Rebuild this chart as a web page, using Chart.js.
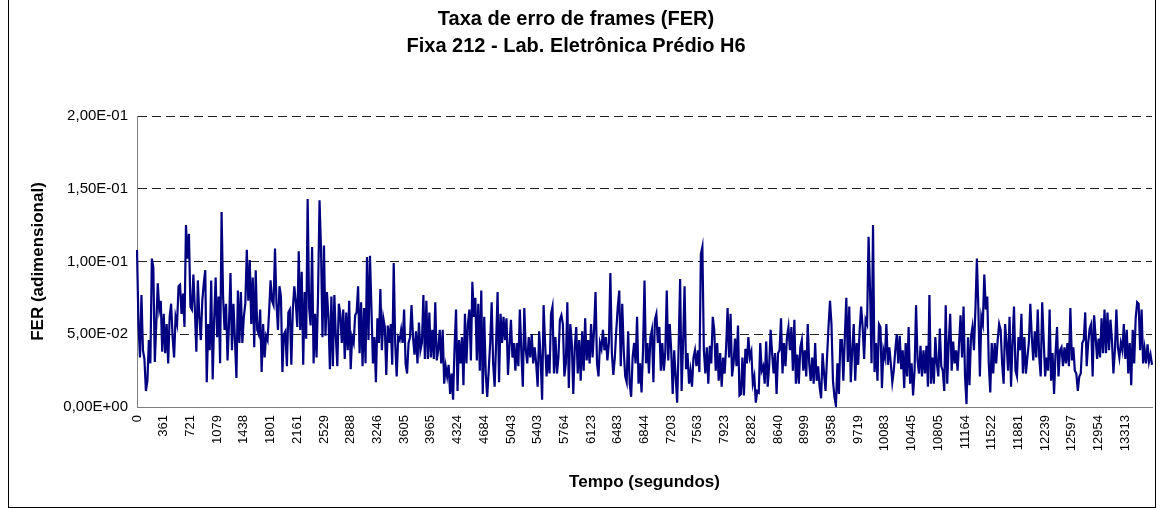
<!DOCTYPE html>
<html>
<head>
<meta charset="utf-8">
<script src="https://cdn.jsdelivr.net/npm/chart.js@4.4.0/dist/chart.umd.min.js"></script>
<style>
  body { margin: 0; background: #fff; }
  #caixa { position: relative; width: 1162px; height: 508px; }
  #moldura { position: absolute; left: 8px; top: -1px; width: 1146px; height: 507px; border: 1px solid #000; pointer-events: none; }
</style>
</head>
<body>
<div id="caixa">
  <canvas id="grafico_fer"></canvas>
  <div id="moldura"></div>
</div>
<script>
// rotulos do eixo X (um a cada 18 amostras)
var rotulos_tempo = ['0', '361', '721', '1079', '1438', '1801', '2161', '2529', '2888', '3246',
  '3605', '3965', '4324', '4684', '5043', '5403', '5764', '6123', '6483', '6844',
  '7203', '7563', '7923', '8282', '8640', '8999', '9358', '9719', '10083', '10445',
  '10805', '11164', '11522', '11881', '12239', '12597', '12954', '13313'];
var passo_rotulo = 18;

// FER, por trechos
var fer_1 = [0.108, 0.057, 0.034, 0.077, 0.039, 0.033, 0.011, 0.018, 0.046, 0.030,
  0.102, 0.096, 0.031, 0.057, 0.085, 0.067, 0.073, 0.038, 0.064, 0.037,
  0.057, 0.030, 0.062, 0.071, 0.048, 0.034, 0.062, 0.057, 0.083, 0.084,
  0.064, 0.078, 0.055, 0.125, 0.102, 0.119, 0.069, 0.067, 0.091, 0.067,
  0.038, 0.087, 0.062, 0.046, 0.073, 0.085, 0.094, 0.017, 0.057, 0.039,
  0.087, 0.019, 0.060, 0.089, 0.048, 0.076, 0.030, 0.134, 0.076, 0.053,
  0.071, 0.032, 0.057, 0.092, 0.039, 0.071, 0.046];
var fer_2 = [0.020, 0.080, 0.044, 0.079, 0.044, 0.062, 0.071, 0.108, 0.073, 0.101,
  0.057, 0.089, 0.041, 0.094, 0.053, 0.050, 0.067, 0.024, 0.057, 0.034,
  0.049, 0.046, 0.065, 0.087, 0.073, 0.070, 0.109, 0.071, 0.053, 0.083,
  0.076, 0.024, 0.050, 0.052, 0.028, 0.065, 0.067, 0.029, 0.067, 0.083,
  0.072, 0.055, 0.107, 0.053, 0.093, 0.029, 0.079, 0.047, 0.143, 0.068,
  0.056, 0.110, 0.030, 0.064, 0.034, 0.077, 0.142, 0.109, 0.048, 0.111,
  0.049, 0.079, 0.062, 0.026, 0.076, 0.028, 0.077, 0.048];
var fer_3 = [0.028, 0.071, 0.064, 0.044, 0.067, 0.033, 0.065, 0.039, 0.073, 0.026,
  0.048, 0.044, 0.063, 0.065, 0.083, 0.037, 0.072, 0.028, 0.068, 0.030,
  0.103, 0.046, 0.104, 0.067, 0.030, 0.048, 0.017, 0.061, 0.044, 0.081,
  0.039, 0.061, 0.055, 0.022, 0.056, 0.044, 0.057, 0.029, 0.099, 0.044,
  0.021, 0.048, 0.046, 0.053, 0.044, 0.067, 0.030, 0.023, 0.044, 0.048,
  0.070, 0.048, 0.036, 0.052, 0.030, 0.058, 0.039, 0.044, 0.077, 0.033,
  0.073, 0.033, 0.065, 0.034, 0.053, 0.033, 0.072, 0.032];
var fer_4 = [0.039, 0.053, 0.030, 0.053, 0.016, 0.028, 0.021, 0.029, 0.009, 0.023,
  0.005, 0.041, 0.067, 0.011, 0.046, 0.030, 0.048, 0.015, 0.064, 0.030,
  0.057, 0.067, 0.032, 0.086, 0.062, 0.075, 0.032, 0.071, 0.025, 0.080,
  0.009, 0.062, 0.023, 0.007, 0.025, 0.044, 0.072, 0.030, 0.014, 0.044,
  0.079, 0.017, 0.064, 0.044, 0.062, 0.046, 0.061, 0.022, 0.042, 0.060,
  0.034, 0.044, 0.025, 0.044, 0.028, 0.067, 0.038, 0.014, 0.068, 0.039,
  0.030, 0.048, 0.034, 0.050, 0.030, 0.041, 0.030, 0.014];
var fer_5 = [0.052, 0.034, 0.005, 0.070, 0.044, 0.021, 0.036, 0.023, 0.064, 0.069,
  0.023, 0.048, 0.023, 0.034, 0.060, 0.063, 0.057, 0.021, 0.030, 0.072,
  0.013, 0.057, 0.044, 0.009, 0.041, 0.055, 0.023, 0.046, 0.018, 0.052,
  0.025, 0.061, 0.032, 0.046, 0.030, 0.057, 0.034, 0.053, 0.079, 0.030,
  0.021, 0.044, 0.040, 0.053, 0.039, 0.048, 0.032, 0.044, 0.092, 0.037,
  0.022, 0.034, 0.053, 0.069, 0.080, 0.028, 0.071, 0.039, 0.021, 0.017,
  0.052, 0.016, 0.007, 0.034, 0.044, 0.030, 0.062, 0.016];
var fer_6 = [0.030, 0.010, 0.039, 0.087, 0.030, 0.044, 0.023, 0.048, 0.053, 0.017,
  0.060, 0.064, 0.044, 0.055, 0.025, 0.044, 0.025, 0.037, 0.080, 0.032,
  0.057, 0.039, 0.009, 0.039, 0.021, 0.003, 0.041, 0.088, 0.011, 0.044,
  0.083, 0.026, 0.037, 0.016, 0.025, 0.014, 0.034, 0.039, 0.028, 0.039,
  0.024, 0.105, 0.110, 0.039, 0.023, 0.041, 0.016, 0.042, 0.030, 0.062,
  0.053, 0.025, 0.044, 0.018, 0.037, 0.014, 0.034, 0.023, 0.041, 0.068,
  0.034, 0.064, 0.021, 0.030, 0.047, 0.028, 0.056, 0.008];
var fer_7 = [0.009, 0.034, 0.008, 0.040, 0.030, 0.048, 0.034, 0.038, 0.016, 0.021,
  0.003, 0.011, 0.010, 0.044, 0.025, 0.028, 0.016, 0.045, 0.014, 0.028,
  0.053, 0.037, 0.023, 0.037, 0.009, 0.037, 0.039, 0.061, 0.023, 0.044,
  0.028, 0.048, 0.055, 0.039, 0.055, 0.025, 0.060, 0.016, 0.036, 0.016,
  0.041, 0.046, 0.025, 0.039, 0.021, 0.057, 0.030, 0.018, 0.034, 0.016,
  0.044, 0.018, 0.028, 0.014, 0.006, 0.037, 0.023, 0.011, 0.034, 0.055,
  0.073, 0.057, 0.018, 0.007, 0.001, 0.030, 0.009, 0.046];
var fer_8 = [0.046, 0.018, 0.048, 0.075, 0.031, 0.069, 0.017, 0.039, 0.057, 0.018,
  0.044, 0.029, 0.053, 0.069, 0.055, 0.033, 0.060, 0.057, 0.117, 0.080,
  0.030, 0.125, 0.024, 0.044, 0.018, 0.057, 0.055, 0.013, 0.039, 0.034,
  0.057, 0.029, 0.041, 0.030, 0.017, 0.025, 0.039, 0.050, 0.030, 0.049,
  0.026, 0.039, 0.013, 0.044, 0.021, 0.055, 0.016, 0.030, 0.008, 0.025,
  0.070, 0.032, 0.023, 0.042, 0.021, 0.039, 0.023, 0.042, 0.014, 0.077,
  0.016, 0.034, 0.016, 0.048, 0.030, 0.021, 0.054, 0.028];
var fer_9 = [0.025, 0.011, 0.070, 0.016, 0.044, 0.064, 0.025, 0.045, 0.030, 0.039,
  0.025, 0.044, 0.063, 0.034, 0.069, 0.021, 0.002, 0.048, 0.015, 0.048,
  0.055, 0.039, 0.067, 0.102, 0.067, 0.021, 0.062, 0.057, 0.091, 0.067,
  0.076, 0.030, 0.010, 0.044, 0.023, 0.044, 0.030, 0.046, 0.057, 0.053,
  0.030, 0.016, 0.057, 0.044, 0.025, 0.062, 0.014, 0.044, 0.069, 0.025,
  0.021, 0.048, 0.039, 0.064, 0.023, 0.048, 0.023, 0.034, 0.044, 0.071,
  0.048, 0.032, 0.052, 0.034, 0.067, 0.034, 0.021, 0.072];
var fer_10 = [0.046, 0.021, 0.034, 0.025, 0.067, 0.018, 0.037, 0.009, 0.037, 0.055,
  0.021, 0.039, 0.041, 0.028, 0.041, 0.030, 0.044, 0.028, 0.068, 0.032,
  0.041, 0.025, 0.023, 0.011, 0.021, 0.023, 0.044, 0.046, 0.065, 0.028,
  0.044, 0.054, 0.057, 0.021, 0.063, 0.048, 0.033, 0.047, 0.034, 0.061,
  0.037, 0.067, 0.037, 0.065, 0.039, 0.060, 0.046, 0.023, 0.039, 0.067,
  0.041, 0.034, 0.044, 0.039, 0.057, 0.033, 0.053, 0.023, 0.044, 0.015,
  0.053, 0.030, 0.061, 0.072, 0.071, 0.039, 0.067, 0.030];
var fer_11 = [0.040, 0.030, 0.043, 0.031, 0.036, 0.029];

var chart_fer;

//Formato do Excel: 5,00E-02
function formato_exp(v) {
  var partes = Number(v).toExponential(2).split('e');
  var exp = parseInt(partes[1], 10);
  var abs = Math.abs(exp);
  return partes[0].replace('.', ',') + 'E' + (exp < 0 ? '-' : '+') + (abs < 10 ? '0' + abs : abs);
}

function grafico_fer() {

  var serie_fer = [].concat(fer_1, fer_2, fer_3, fer_4, fer_5, fer_6, fer_7, fer_8, fer_9, fer_10, fer_11);
  var indices = serie_fer.map(function (v, i) { return i; });

  Chart.defaults.font.family = "'Liberation Sans', Arial, sans-serif";
  Chart.defaults.color = '#000';

  chart_fer = new Chart(document.getElementById('grafico_fer'), {
    type: 'line',
    data: {
      labels: indices,
      datasets: [{
        label: 'FER',
        data: serie_fer,
        borderColor: '#000080',
        borderWidth: 2.2,
        pointRadius: 0,
        tension: 0,
        fill: false
      }]
    },
    options: {
      responsive: true,
      maintainAspectRatio: false,
      animation: false,
      layout: { padding: { right: 10 } },
      plugins: {
        legend: { display: false },
        tooltip: { enabled: false },
        title: {
          display: true,
          text: ['Taxa de erro de frames (FER)', 'Fixa 212 - Lab. Eletrônica Prédio H6'],
          color: '#000',
          font: { size: 20, weight: 'bold', lineHeight: 1.35 },
          padding: { top: 6, bottom: 56 }
        }
      },
      scales: {
        x: {
          type: 'category',
          grid: { display: false },
          border: { display: true, color: '#808080' },
          ticks: {
            autoSkip: false,
            minRotation: 90,
            maxRotation: 90,
            padding: 0,
            font: { size: 13 },
            callback: function (value, index) {
              return index % passo_rotulo === 0 ? rotulos_tempo[index / passo_rotulo] : null;
            }
          },
          title: { display: true, text: 'Tempo (segundos)', font: { size: 17, weight: 'bold' }, padding: { top: 4, bottom: 15 } },
          afterFit: function (s) { s.height = 101; }
        },
        y: {
          min: 0,
          max: 0.2,
          grid: { color: '#222', drawTicks: false },
          border: { display: true, color: '#808080', dash: [9, 5] },
          ticks: { stepSize: 0.05, padding: 9, font: { size: 15 }, callback: formato_exp },
          title: { display: true, text: 'FER (adimensional)', font: { size: 17, weight: 'bold' }, padding: { top: 28, bottom: 0 } },
          afterFit: function (s) { s.width = 137; }
        }
      }
    }
  });
}

grafico_fer();
</script>
</body>
</html>
